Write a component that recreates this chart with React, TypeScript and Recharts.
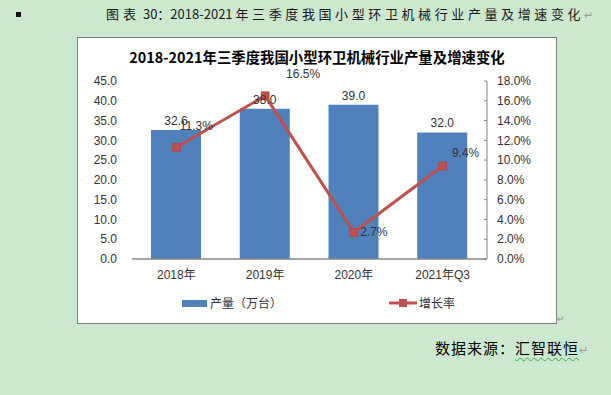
import React from 'react';
import { ComposedChart, Bar, Line, XAxis, YAxis, Legend, LabelList } from 'recharts';

const categories = ['2018年', '2019年', '2020年', '2021年Q3'];
const outputValues = [32.6, 38.0, 39.0, 32.0];
const growthValues = [11.3, 16.5, 2.7, 9.4];
const leftTicks = [0, 5, 10, 15, 20, 25, 30, 35, 40, 45];
const rightTicks = [0, 2, 4, 6, 8, 10, 12, 14, 16, 18];

const data = categories.map((name, i) => ({
  name,
  output: outputValues[i],
  growth: growthValues[i],
}));

const FONT = '"Liberation Sans", "Noto Sans CJK SC", sans-serif';
const CJK = '"Noto Sans CJK SC", "Liberation Sans", sans-serif';
const BAR = '#4f81bd';
const RED = '#c0504d';
const TXT = '#333333';

// label placement offsets for growth labels (dx, dy) — style only
const growthLabelOffsets = [
  [20, -21],
  [38, -22],
  [20, 0],
  [23, -13],
];

const SquareDot = (props: any) => {
  const { cx, cy, index } = props;
  if (cx == null || cy == null) return <g key={index} />;
  return (
    <rect key={index} x={cx - 4} y={cy - 4} width={8} height={8} fill={RED} stroke="#b0403d" strokeWidth={0.6} />
  );
};

const GrowthLabel = (props: any) => {
  const { x, y, value, index } = props;
  const off = growthLabelOffsets[index] || [0, -10];
  return (
    <text
      x={x + off[0]}
      y={y + off[1]}
      textAnchor="middle"
      dominantBaseline="central"
      fontSize={12}
      fontFamily={FONT}
      fill={TXT}
    >
      {`${Number(value).toFixed(1)}%`}
    </text>
  );
};

const renderLegend = () => (
  <div style={{ position: 'relative', width: 478, height: 20, fontFamily: CJK, fontSize: 12, color: TXT }}>
    <div style={{ position: 'absolute', left: 104, top: 7, width: 25, height: 7, background: BAR }} />
    <div style={{ position: 'absolute', left: 132, top: 2, lineHeight: '16px', whiteSpace: 'nowrap' }}>产量（万台）</div>
    <svg style={{ position: 'absolute', left: 311, top: 4 }} width={28} height={12}>
      <line x1={0} y1={6} x2={28} y2={6} stroke={RED} strokeWidth={3} />
      <rect x={10} y={2} width={8} height={8} fill={RED} />
    </svg>
    <div style={{ position: 'absolute', left: 341, top: 2, lineHeight: '16px', whiteSpace: 'nowrap' }}>增长率</div>
  </div>
);

export default function App() {
  return (
    <div
      style={{
        position: 'absolute',
        left: 0,
        top: 0,
        width: 611,
        height: 395,
        background: '#cce8cf',
        overflow: 'hidden',
      }}
    >
      <div style={{ position: 'absolute', left: 16, top: 12, width: 5, height: 5, background: '#111' }} />
      <div
        style={{
          position: 'absolute',
          left: 106,
          top: 5,
          fontFamily: CJK,
          fontSize: 13,
          lineHeight: '18px',
          color: '#1a1a1a',
          whiteSpace: 'pre',
        }}
      >
        <span style={{ letterSpacing: 4 }}>图表</span>
        <span> 30：2018-2021 </span>
        <span style={{ letterSpacing: 3.6 }}>年三季度我国小型环卫机械行业产量及增速变化</span>
        <span style={{ color: '#999', fontSize: 11 }}>↵</span>
      </div>

      <div
        style={{
          position: 'absolute',
          left: 77,
          top: 37,
          width: 478,
          height: 285,
          background: '#ffffff',
          border: '1px solid #7f7f7f',
        }}
      >
        <div
          style={{
            position: 'absolute',
            left: 0,
            top: 9,
            width: 478,
            textAlign: 'center',
            fontFamily: CJK,
            fontWeight: 700,
            fontSize: 14.4,
            lineHeight: '20px',
            color: '#000',
          }}
        >
          2018-2021年三季度我国小型环卫机械行业产量及增速变化
        </div>
        <ComposedChart
          width={478}
          height={285}
          data={data}
          margin={{ top: 43, right: 0, bottom: 10, left: 0 }}
          barCategoryGap="22%"
        >
          <XAxis
            dataKey="name"
            axisLine={{ stroke: '#868686', strokeWidth: 1.5 }}
            tickLine={false}
            tickSize={6}
            tickMargin={5}
            height={34}
            tick={{ fontSize: 12, fontFamily: FONT, fill: TXT }}
            interval={0}
          />
          <YAxis
            yAxisId="left"
            orientation="left"
            width={54}
            domain={[0, 45]}
            ticks={leftTicks}
            axisLine={false}
            tickLine={false}
            tickSize={6}
            tickMargin={9}
            tickFormatter={(v: number) => v.toFixed(1)}
            tick={{ fontSize: 12, fontFamily: FONT, fill: TXT }}
            interval={0}
          />
          <YAxis
            yAxisId="right"
            orientation="right"
            width={69}
            domain={[0, 18]}
            ticks={rightTicks}
            axisLine={{ stroke: '#868686', strokeWidth: 1 }}
            tickLine={{ stroke: '#868686' }}
            tickSize={-3}
            tickMargin={13}
            tickFormatter={(v: number) => `${v.toFixed(1)}%`}
            tick={{ fontSize: 12, fontFamily: FONT, fill: TXT, textAnchor: 'start' }}
            interval={0}
          />
          <Legend verticalAlign="bottom" height={20} content={renderLegend} />
          <Bar yAxisId="left" dataKey="output" fill={BAR} barSize={50} isAnimationActive={false}>
            <LabelList
              dataKey="output"
              position="top"
              offset={5}
              formatter={(v: any) => Number(v).toFixed(1)}
              style={{ fontSize: 12, fontFamily: FONT, fill: TXT }}
            />
          </Bar>
          <Line
            yAxisId="right"
            dataKey="growth"
            stroke={RED}
            strokeWidth={3}
            dot={SquareDot}
            activeDot={false}
            isAnimationActive={false}
          >
            <LabelList dataKey="growth" content={GrowthLabel} />
          </Line>
        </ComposedChart>
      </div>
      <div style={{ position: 'absolute', left: 557, top: 314, fontSize: 9, color: '#999' }}>↵</div>

      <div
        style={{
          position: 'absolute',
          left: 435,
          top: 338,
          fontFamily: CJK,
          fontSize: 15,
          lineHeight: '20px',
          letterSpacing: 1,
          color: '#000',
          whiteSpace: 'pre',
        }}
      >
        <span>数据来源：</span>
        <span style={{ textDecoration: 'underline wavy #3cb043', textUnderlineOffset: 3, textDecorationThickness: 1 }}>汇智联恒</span>
        <span style={{ color: '#999', fontSize: 11 }}>↵</span>
      </div>
    </div>
  );
}
